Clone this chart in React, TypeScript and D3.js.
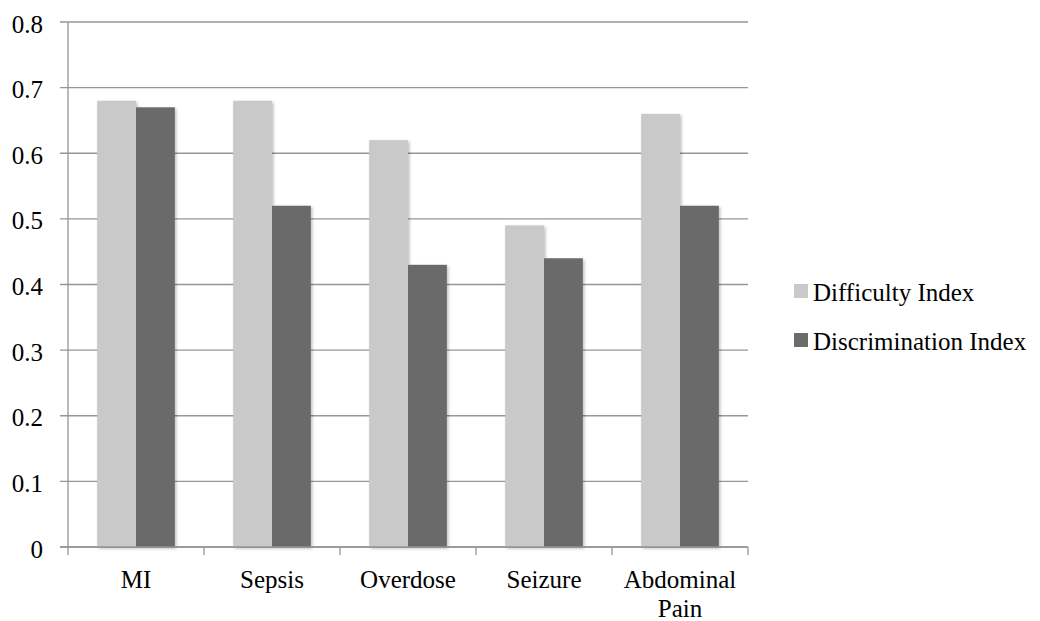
import * as React from 'react';
import {useEffect, useRef} from 'react';
import * as d3 from 'd3';

const width = 1040;
const height = 621;

const categories = ['MI', 'Sepsis', 'Overdose', 'Seizure', 'Abdominal Pain'];
const seriesNames = ['Difficulty Index', 'Discrimination Index'];
const difficulty = [0.68, 0.68, 0.62, 0.49, 0.66];
const discrimination = [0.67, 0.52, 0.43, 0.44, 0.52];
const yTicks = [0, 0.1, 0.2, 0.3, 0.4, 0.5, 0.6, 0.7, 0.8];
const colors = ['#c9c9c9', '#6b6b6b'];

const margin = {top: 22, right: 292, bottom: 74, left: 68};
const font = '"Liberation Serif", serif';
const fontSize = '25px';

export default function App() {
  const ref = useRef<SVGSVGElement>(null);

  useEffect(() => {
    const svg = d3.select(ref.current);
    svg.selectAll('*').remove();

    const x0 = d3.scaleBand().domain(categories).range([margin.left, width - margin.right]);
    const y = d3.scaleLinear().domain([0, 0.8]).range([height - margin.bottom, margin.top]);
    // gap width 150% like the office chart
    const barW = x0.bandwidth() / 3.5;

    const defs = svg.append('defs');
    const f = defs.append('filter').attr('id', 'shadow')
      .attr('x', '-20%').attr('y', '-5%').attr('width', '140%').attr('height', '110%');
    f.append('feDropShadow').attr('dx', 1.5).attr('dy', 1.5).attr('stdDeviation', 1.8)
      .attr('flood-color', '#000').attr('flood-opacity', 0.25);

    // gridlines
    svg.append('g').selectAll('line').data(yTicks).join('line')
      .attr('x1', margin.left - 8).attr('x2', width - margin.right)
      .attr('y1', d => y(d)).attr('y2', d => y(d))
      .attr('stroke', '#969696').attr('stroke-width', 1.3);

    svg.append('g').selectAll('text').data(yTicks).join('text')
      .attr('x', 43).attr('y', d => y(d)).attr('dy', '0.42em')
      .attr('text-anchor', 'end')
      .style('font-family', font).style('font-size', fontSize).attr('fill', '#000')
      .text(d => d === 0 ? '0' : d3.format('.1f')(d));

    // y axis line
    svg.append('line')
      .attr('x1', margin.left).attr('x2', margin.left)
      .attr('y1', y(0.8)).attr('y2', y(0))
      .attr('stroke', '#969696').attr('stroke-width', 1.3);

    // bars
    const series = [difficulty, discrimination];
    const g = svg.append('g').attr('filter', 'url(#shadow)');
    series.forEach((vals, si) => {
      g.append('g').selectAll('rect').data(categories).join('rect')
        .attr('x', (c) => x0(c)! + x0.bandwidth() / 2 - barW + si * barW)
        .attr('width', barW)
        .attr('y', (c, i) => y(vals[i]))
        .attr('height', (c, i) => y(0) - y(vals[i]))
        .attr('fill', colors[si]);
    });

    // x axis
    svg.append('line')
      .attr('x1', margin.left - 8).attr('x2', width - margin.right)
      .attr('y1', y(0)).attr('y2', y(0))
      .attr('stroke', '#969696').attr('stroke-width', 1.3);
    const tickXs = categories.map(c => x0(c)!).concat([x0(categories[categories.length - 1])! + x0.bandwidth()]);
    svg.append('g').selectAll('line').data(tickXs).join('line')
      .attr('x1', d => d).attr('x2', d => d)
      .attr('y1', y(0)).attr('y2', y(0) + 8)
      .attr('stroke', '#969696').attr('stroke-width', 1.3);

    const xl = svg.append('g').selectAll('text').data(categories).join('text')
      .attr('x', c => x0(c)! + x0.bandwidth() / 2).attr('y', 588)
      .attr('text-anchor', 'middle')
      .style('font-family', font).style('font-size', fontSize).attr('fill', '#000');
    xl.each(function (c) {
      const words = c.split(' ');
      const t = d3.select(this);
      const cx = t.attr('x');
      words.forEach((w, i) => {
        t.append('tspan').attr('x', cx).attr('dy', i === 0 ? 0 : 29).text(w);
      });
    });

    // legend
    const lg = svg.append('g');
    seriesNames.forEach((name, i) => {
      const cy = 291 + i * 49;
      lg.append('rect').attr('x', 794).attr('y', cy - 7).attr('width', 14).attr('height', 14)
        .attr('fill', colors[i]);
      lg.append('text').attr('x', 813).attr('y', cy).attr('dy', '0.38em')
        .style('font-family', font).style('font-size', fontSize).attr('fill', '#000')
        .text(name);
    });
  }, []);

  return (
    <svg ref={ref} width={width} height={height}
      style={{position: 'absolute', left: 0, top: 0, background: '#fff'}}/>
  );
}
